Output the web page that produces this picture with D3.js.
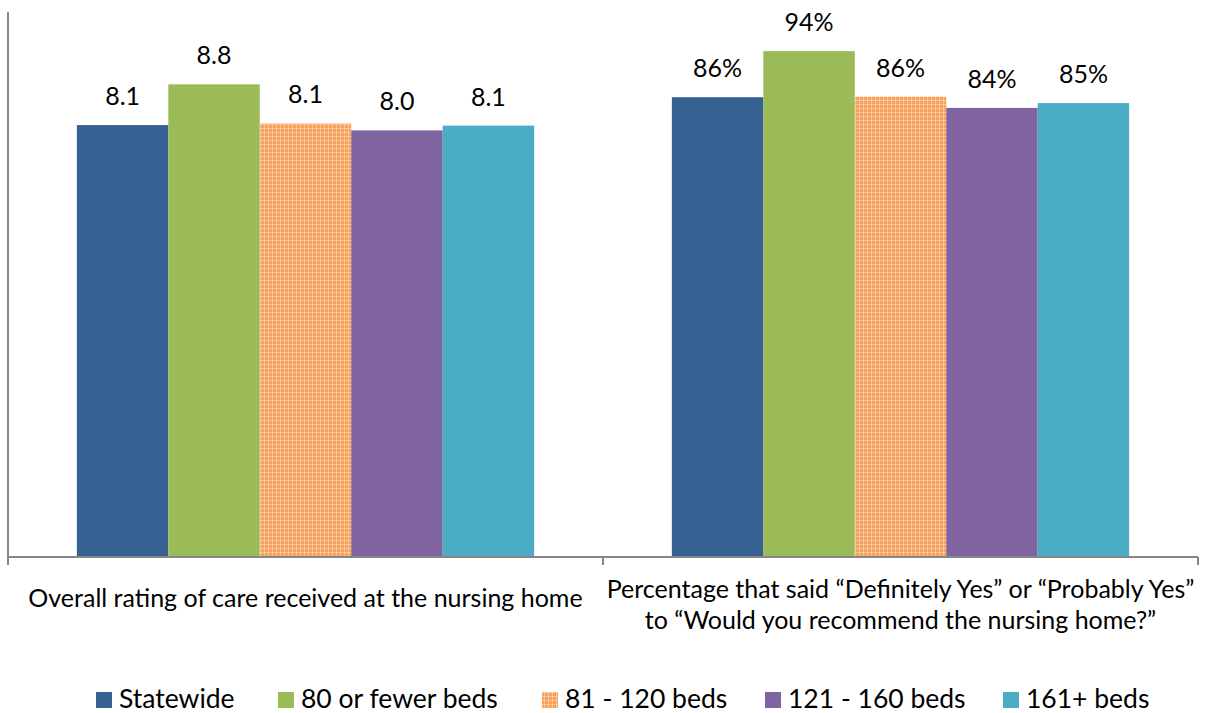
<!DOCTYPE html>
<html>
<head>
<meta charset="utf-8">
<script src="https://cdn.jsdelivr.net/npm/d3@7"></script>
<style>
  html, body { margin: 0; padding: 0; background: #fff; }
  svg { display: block; }
  text { font-family: Lato, "Open Sans", sans-serif; fill: #000; }
</style>
</head>
<body>
<svg id="chart" width="1206" height="713"></svg>
<script>
// ---- data ----
const categories = [
  ["Overall rating of care received at the nursing home"],
  ["Percentage that said \u201cDefinitely Yes\u201d or \u201cProbably Yes\u201d", "to \u201cWould you recommend the nursing home?\u201d"]
];
const categoryKeys = ["rating", "recommend"];
const seriesNames = ["Statewide", "80 or fewer beds", "81 - 120 beds", "121 - 160 beds", "161+ beds"];
// rating on 0-10 scale (plotted x10), recommend in percent
const ratingValues = [8.06, 8.82, 8.09, 7.96, 8.05];
const recommendValues = [85.8, 94.4, 85.9, 83.8, 84.7];
const seriesColors = ["#366092", "#9BBB59", "#F9A766", "#8064A2", "#4BACC6"];

const svg = d3.select("#chart");
const plot = { left: 8, right: 1198, top: 12, bottom: 557 };

// pattern for 81-120 beds
const defs = svg.append("defs");
const pat = defs.append("pattern").attr("id", "checker")
  .attr("patternUnits", "userSpaceOnUse").attr("width", 4).attr("height", 4);
pat.append("rect").attr("width", 4).attr("height", 4).attr("fill", "#F8A260");
pat.append("rect").attr("x", 0).attr("y", 0).attr("width", 4).attr("height", 1).attr("fill", "#FBC08F");
pat.append("rect").attr("x", 0).attr("y", 0).attr("width", 1).attr("height", 4).attr("fill", "#FBC08F");
pat.append("rect").attr("x", 0).attr("y", 0).attr("width", 1).attr("height", 1).attr("fill", "#FDDDBF");
const fills = seriesColors.map((c, i) => i === 2 ? "url(#checker)" : c);

const x0 = d3.scaleBand().domain(categoryKeys).range([plot.left, plot.right]).paddingInner(0).paddingOuter(0);
const x1 = d3.scaleBand().domain(seriesNames).range([0, x0.bandwidth()]).paddingInner(0).paddingOuter(0.753);
const y = d3.scaleLinear().domain([0, 101.7]).range([plot.bottom, plot.top]);

const groups = [
  { key: "rating", vals: ratingValues.map(v => v * 10), labels: ratingValues.map(v => d3.format(".1f")(v)) },
  { key: "recommend", vals: recommendValues, labels: recommendValues.map(v => d3.format(".0f")(v) + "%") }
];

const g = svg.selectAll("g.grp").data(groups).enter().append("g")
  .attr("class", "grp")
  .attr("transform", d => `translate(${x0(d.key)},0)`);

g.selectAll("rect").data(d => d.vals.map((v, i) => ({ v, i, name: seriesNames[i] })))
  .enter().append("rect")
  .attr("x", d => x1(d.name))
  .attr("width", x1.bandwidth())
  .attr("y", d => y(d.v))
  .attr("height", d => plot.bottom - y(d.v))
  .attr("fill", d => fills[d.i]);

g.selectAll("text.val").data(d => d.vals.map((v, i) => ({ v, i, name: seriesNames[i], label: d.labels[i] })))
  .enter().append("text")
  .attr("class", "val")
  .attr("x", d => x1(d.name) + x1.bandwidth() / 2)
  .attr("y", d => y(d.v) - 20)
  .attr("text-anchor", "middle")
  .style("font-size", "25px")
  .text(d => d.label);

// axes
const axisColor = "#868686";
svg.append("line").attr("x1", plot.left).attr("x2", plot.left).attr("y1", plot.top).attr("y2", plot.bottom)
  .attr("stroke", axisColor).attr("stroke-width", 2);
svg.append("line").attr("x1", plot.left).attr("x2", plot.right).attr("y1", plot.bottom).attr("y2", plot.bottom)
  .attr("stroke", axisColor).attr("stroke-width", 2);
const tickXs = [x0("rating"), x0("recommend"), x0("recommend") + x0.bandwidth()];
svg.selectAll("line.tick").data(tickXs).enter().append("line")
  .attr("class", "tick")
  .attr("x1", d => d).attr("x2", d => d)
  .attr("y1", plot.bottom).attr("y2", plot.bottom + 8)
  .attr("stroke", axisColor).attr("stroke-width", 2);

// category labels
const lineH = 31;
categoryKeys.forEach((k, ci) => {
  const lines = categories[ci];
  const cx = x0(k) + x0.bandwidth() / 2;
  const baseY = lines.length === 1 ? 607 : 598;
  const t = svg.append("text").attr("text-anchor", "middle").style("font-size", "25px");
  lines.forEach((ln, li) => {
    t.append("tspan").attr("x", cx).attr("y", baseY + li * lineH).text(ln);
  });
});

// legend
const legendSquareX = [96, 278, 542, 765, 1003];
const leg = svg.append("g");
seriesNames.forEach((name, i) => {
  leg.append("rect").attr("x", legendSquareX[i]).attr("y", 692).attr("width", 16).attr("height", 16)
    .attr("fill", fills[i]);
  leg.append("text").attr("x", legendSquareX[i] + 23).attr("y", 708)
    .style("font-size", "26.5px").text(name);
});
</script>
</body>
</html>
